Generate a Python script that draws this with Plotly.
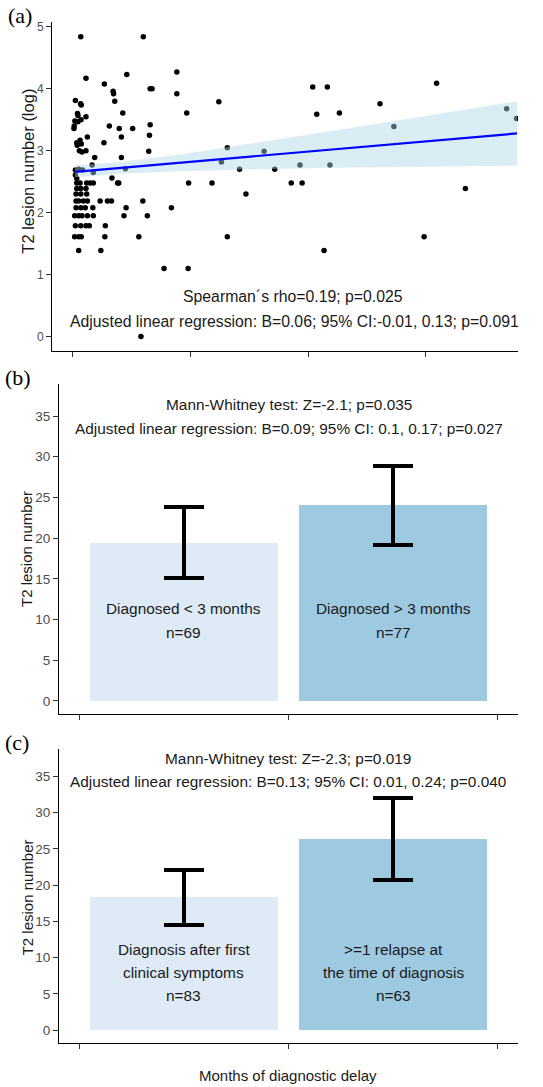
import plotly.graph_objects as go

# ---------------- data ----------------
# Panel (a): diagnostic delay (months) vs log T2 lesion number
delay_months = [3.7, 30.2, 5.9, 23.2, 44.4, 13.7, 17.4, 17.6, 18.1, 1.4, 3.6, 3.9, 21.5, 2.3, 2.5, 5.9,
                1.2, 2.5, 3.8, 0.9, 0.8, 15.8, 20.0, 25.7, 20.9, 6.5, 13.5, 2.0, 3.4, 3.9, 2.2,
                3.1, 4.2, 5.9, 9.6, 20.9, 32.5, 32.8, 33.1, 33.1, 33.9, 39.0, 49.2, 44.4, 48.6, 42.1,
                49.4, 30.0, 31.9, 28.3, 29.2,
                1.4, 2.8, 4.5, 8.5, 9.0, 1.4, 2.0, 22.6, 16.9, 19.3, 19.8,
                2.0, 3.4, 6.2, 7.6, 9.0,
                2.0, 3.7, 5.9,
                1.7, 3.7, 6.2,
                1.7, 2.8, 4.8, 6.5, 11.9, 15.0, 16.7,
                1.7, 3.7, 5.6, 8.8, 22.9,
                1.1, 2.8, 4.2, 6.5, 9.0, 22.0,
                1.4, 3.7, 5.9, 7.3, 14.1,
                1.1, 2.8, 3.9, 13.9,
                2.8, 12.2,
                59.3, 62.2, 63.3, 65.8, 65.8, 71.0, 73.7, 81.4, 85.9, 92.9, 96.6, 97.5, 102.0, 103.7,
                106.8, 108.2, 109.3, 113.3, 130.5, 136.4, 149.2, 154.5, 166.7, 184.2, 188.4]
t2_log = [4.84, 4.84, 4.17, 4.23, 4.27, 4.08, 3.96, 3.92, 3.80, 3.81, 3.76, 3.74, 3.61, 3.60, 3.57, 3.55,
          3.48, 3.47, 3.50, 3.40, 3.36, 3.40, 3.36, 3.36, 3.22, 3.22, 3.13, 3.13, 3.17, 3.11, 3.09,
          3.00, 2.98, 3.00, 2.89, 2.89, 2.99, 3.25, 3.42, 4.00, 4.00, 1.10, 1.10, 3.92, 3.61, 2.08,
          2.48, 2.19, 1.95, 1.61, 0.00,
          2.69, 2.70, 2.69, 2.77, 2.65, 2.61, 2.55, 2.71, 2.56, 2.48, 2.48,
          2.48, 2.48, 2.48, 2.48, 2.48,
          2.39, 2.39, 2.39,
          2.30, 2.30, 2.30,
          2.19, 2.19, 2.19, 2.19, 2.19, 2.19, 2.19,
          2.08, 2.08, 2.08, 2.08, 2.08,
          1.95, 1.95, 1.95, 1.95, 1.95, 1.95,
          1.79, 1.79, 1.79, 1.79, 1.79,
          1.61, 1.61, 1.61, 1.61,
          1.39, 1.39,
          2.48, 3.79, 2.82, 3.05, 1.61, 2.70, 2.30, 2.99, 2.70, 2.48, 2.77, 2.48, 4.03, 3.59,
          1.39, 4.03, 2.77, 3.61, 3.76, 3.39, 1.61, 4.09, 2.39, 3.68, 3.52]

# Regression line and 95% confidence band
fit_x = [1.3, 188.6]
fit_y = [2.66, 3.28]
band_x = [1.3, 20.3, 45.8, 75.4, 105.1, 134.7, 164.4, 188.6]
band_upper = [2.76, 2.82, 2.94, 3.11, 3.29, 3.47, 3.65, 3.80]
band_lower = [2.57, 2.63, 2.67, 2.70, 2.72, 2.74, 2.75, 2.76]

# Panel (b)
b_groups = ["Diagnosed < 3 months", "Diagnosed > 3 months"]
b_n = [69, 77]
b_mean = [19.45, 24.05]
b_ci_low = [15.05, 19.15]
b_ci_high = [23.85, 28.85]

# Panel (c)
c_groups = [["Diagnosis after first", "clinical symptoms"], [">=1 relapse at", "the time of diagnosis"]]
c_n = [83, 63]
c_mean = [18.3, 26.4]
c_ci_low = [14.5, 20.75]
c_ci_high = [22.1, 32.05]

bar_pos = [1, 2]
bar_colors = ["#deebf7", "#9ecae1"]

# ---------------- figure ----------------
W, H = 543, 1087
FONT = "Liberation Sans, Arial, sans-serif"
TICKC = "#4d4d4d"

def px_x(p):
    return p / W

def px_y(p):
    return 1 - p / H

fig = go.Figure()

# (a) scatter
fig.add_trace(go.Scatter(x=delay_months, y=t2_log, mode="markers",
                         marker=dict(color="black", size=5.5, line=dict(width=0)),
                         xaxis="x", yaxis="y", showlegend=False, hoverinfo="skip"))
fig.add_trace(go.Scatter(x=band_x + band_x[::-1], y=band_upper + band_lower[::-1],
                         fill="toself", fillcolor="rgba(173,216,230,0.45)", mode="lines",
                         line=dict(width=0), xaxis="x", yaxis="y", showlegend=False, hoverinfo="skip"))
fig.add_trace(go.Scatter(x=fit_x, y=fit_y, mode="lines", line=dict(color="#0000ff", width=2.2),
                         xaxis="x", yaxis="y", showlegend=False, hoverinfo="skip"))

# (b) bars
fig.add_trace(go.Bar(x=bar_pos, y=b_mean, width=0.9, marker=dict(color=bar_colors, line=dict(width=0)),
                     error_y=dict(type="data", symmetric=False,
                                  array=[h - m for h, m in zip(b_ci_high, b_mean)],
                                  arrayminus=[m - l for m, l in zip(b_mean, b_ci_low)],
                                  color="black", thickness=4, width=20),
                     xaxis="x2", yaxis="y2", showlegend=False, hoverinfo="skip"))
# (c) bars
fig.add_trace(go.Bar(x=bar_pos, y=c_mean, width=0.9, marker=dict(color=bar_colors, line=dict(width=0)),
                     error_y=dict(type="data", symmetric=False,
                                  array=[h - m for h, m in zip(c_ci_high, c_mean)],
                                  arrayminus=[m - l for m, l in zip(c_mean, c_ci_low)],
                                  color="black", thickness=4, width=20),
                     xaxis="x3", yaxis="y3", showlegend=False, hoverinfo="skip"))

axis_common = dict(showline=True, linecolor="black", linewidth=1, ticks="outside", ticklen=5,
                   tickcolor="#333333", tickwidth=1, showgrid=False, zeroline=False, mirror=False)

fig.update_layout(
    width=W, height=H, margin=dict(l=0, r=0, t=0, b=0),
    paper_bgcolor="white", plot_bgcolor="white",
    font=dict(family=FONT, color="black"),
    xaxis=dict(axis_common, domain=[px_x(52), px_x(518)], range=[-8.5, 189],
               tickvals=[0, 50, 100, 150], showticklabels=False, anchor="y"),
    yaxis=dict(axis_common, domain=[px_y(350), px_y(20)], range=[-0.24, 5.08],
               tickvals=[0, 1, 2, 3, 4, 5], tickfont=dict(size=12, color=TICKC), anchor="x"),
    xaxis2=dict(axis_common, domain=[px_x(59), px_x(518)], range=[0.402, 2.598],
                tickvals=[0.5, 1.5, 2.5], showticklabels=False, anchor="y2"),
    yaxis2=dict(axis_common, domain=[px_y(713.3), px_y(383)], range=[-1.6, 38.9],
                tickvals=[0, 5, 10, 15, 20, 25, 30, 35], tickfont=dict(size=13.5, color=TICKC), anchor="x2"),
    xaxis3=dict(axis_common, domain=[px_x(59), px_x(518)], range=[0.402, 2.598],
                tickvals=[0.5, 1.5, 2.5], showticklabels=False, anchor="y3"),
    yaxis3=dict(axis_common, domain=[px_y(1043.3), px_y(748.3)], range=[-1.83, 38.8],
                tickvals=[0, 5, 10, 15, 20, 25, 30, 35], tickfont=dict(size=13.5, color=TICKC), anchor="x3"),
    bargap=0,
)

ann = []
def txt(x, y, s, size, family=FONT, color="#1a1a1a", angle=0, xref="paper", yref="paper"):
    ann.append(dict(x=x, y=y, xref=xref, yref=yref, text=s, showarrow=False,
                    font=dict(size=size, family=family, color=color), textangle=angle,
                    xanchor="center", yanchor="middle"))

SERIF = "Liberation Serif, Times New Roman, serif"
txt(px_x(20), px_y(14), "(a)", 22, SERIF, "black")
txt(px_x(18), px_y(376), "(b)", 22, SERIF, "black")
txt(px_x(17), px_y(742), "(c)", 22, SERIF, "black")

# axis titles
txt(px_x(28), px_y(170), "T2 lesion number (log)", 16.5, angle=-90)
txt(px_x(27), px_y(548), "T2 lesion number", 15, angle=-90)
txt(px_x(27), px_y(897), "T2 lesion number", 15, angle=-90)
txt(px_x(288), px_y(1075), "Months of diagnostic delay", 15)

# statistics
txt(px_x(293), px_y(295), "Spearman´s rho=0.19; p=0.025", 15.8)
txt(px_x(294), px_y(320), "Adjusted linear regression: B=0.06; 95% CI:-0.01, 0.13; p=0.091", 15.8)
txt(px_x(289), px_y(403), "Mann-Whitney test: Z=-2.1; p=0.035", 15.4)
txt(px_x(288.5), px_y(427), "Adjusted linear regression: B=0.09; 95% CI: 0.1, 0.17; p=0.027", 15.4)
txt(px_x(288), px_y(757.7), "Mann-Whitney test: Z=-2.3; p=0.019", 15.4)
txt(px_x(288), px_y(780.7), "Adjusted linear regression: B=0.13; 95% CI: 0.01, 0.24; p=0.040", 15.4)

# bar labels (b)
for pos, g, n in zip(bar_pos, b_groups, b_n):
    ann.append(dict(x=pos, y=11.3, xref="x2", yref="y2", text=g, showarrow=False,
                    font=dict(size=15.4, family=FONT, color="#1a1a1a")))
    ann.append(dict(x=pos, y=8.45, xref="x2", yref="y2", text=f"n={n}", showarrow=False,
                    font=dict(size=15.4, family=FONT, color="#1a1a1a")))
# bar labels (c)
for pos, g, n in zip(bar_pos, c_groups, c_n):
    ann.append(dict(x=pos, y=11.1, xref="x3", yref="y3", text=g[0], showarrow=False,
                    font=dict(size=15.4, family=FONT, color="#1a1a1a")))
    ann.append(dict(x=pos, y=7.9, xref="x3", yref="y3", text=g[1], showarrow=False,
                    font=dict(size=15.4, family=FONT, color="#1a1a1a")))
    ann.append(dict(x=pos, y=4.75, xref="x3", yref="y3", text=f"n={n}", showarrow=False,
                    font=dict(size=15.4, family=FONT, color="#1a1a1a")))

fig.update_layout(annotations=ann)
fig.write_html("out.html",
               config={"displayModeBar": False, "staticPlot": True},
               post_script="document.body.style.margin='0';document.body.style.padding='0';"
                           "document.documentElement.style.margin='0';")
